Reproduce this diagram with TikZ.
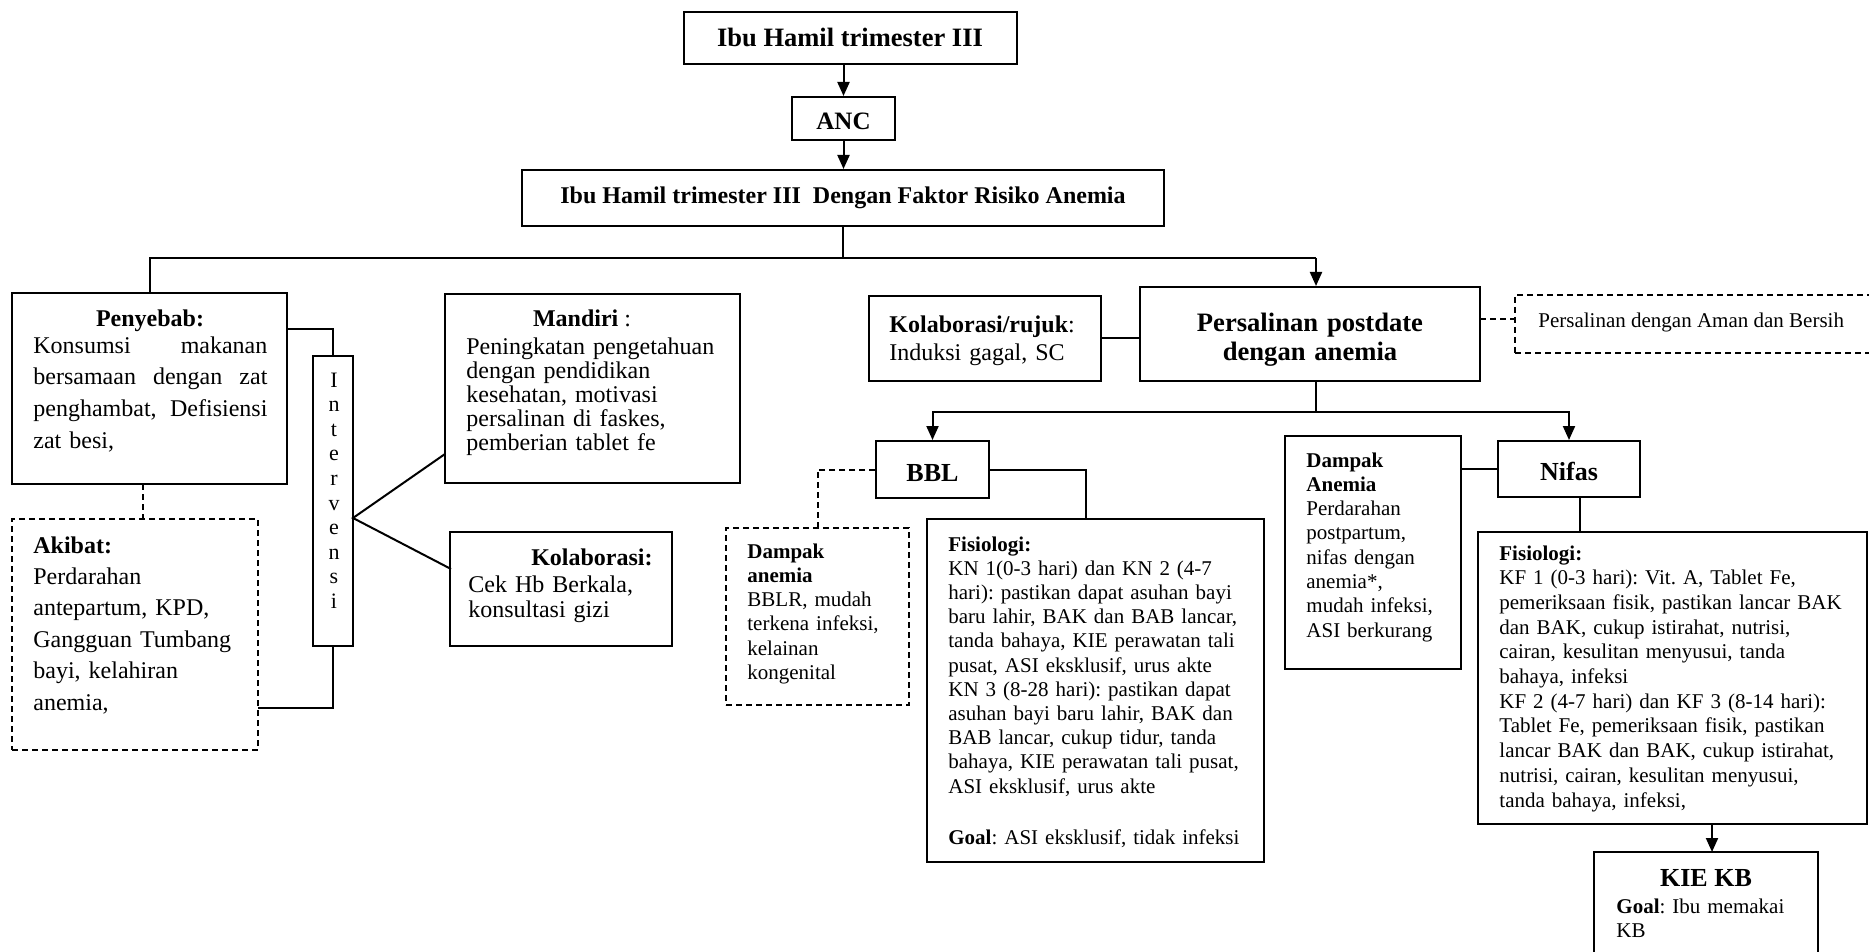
\documentclass[tikz,border=0pt]{standalone}
\usepackage{fontspec}
\setmainfont{Liberation Serif}
\usetikzlibrary{fit,arrows.meta}
\newcommand{\fsz}[2]{\fontsize{#1}{#2}\selectfont}
\frenchspacing
\begin{document}
\frenchspacing
\begin{tikzpicture}[x=0.5pt,y=-0.5pt,
  bx/.style={draw, line width=1pt, inner sep=0pt},
  dbx/.style={bx, dash pattern=on 3pt off 2pt},
  ln/.style={line width=1pt},
  dln/.style={line width=1pt, dash pattern=on 3pt off 2pt},
  arr/.style={line width=1pt, -{Triangle[length=7pt,width=6pt]}},
  txt/.style={inner sep=0pt, anchor=base west, align=left},
  ctxt/.style={inner sep=0pt, anchor=base, align=center}]
\useasboundingbox (0,0) rectangle (1869,952);
\fill[white] (0,0) rectangle (1869,952);

% ---------- top chain ----------
\node[bx, fit={(684,12)(1017,64)}] (b1) {};
\node[ctxt, font=\bfseries\fsz{13.25}{15}] (b1t) at (850,47) {Ibu Hamil trimester III};
\node[bx, fit={(792,97)(895,140)}] (anc) {};
\node[ctxt, font=\bfseries\fsz{12.5}{14}] (anct) at (843.5,130) {ANC};
\node[bx, fit={(522,170)(1164,226)}] (b3) {};
\node[ctxt, font=\bfseries\fsz{12}{14}] (b3t) at (843,204) {Ibu Hamil trimester III\ \ Dengan Faktor Risiko Anemia};

\draw[arr] (anc.north |- b1.south) -- (anc.north);
\draw[arr] (anc.south) -- (anc.south |- b3.north);

% ---------- left part ----------
\node[bx, fit={(12,293)(287,484)}] (peny) {};
\node[ctxt, font=\bfseries\fsz{12}{14}] (penyh) at (150,327) {Penyebab:};
\node[txt, text width=117pt, font=\fsz{12}{15.85}] (penyt) at (33,353)
  {\makebox[117pt][l]{Konsumsi\hfill makanan}\\\makebox[117pt][l]{bersamaan\hfill dengan\hfill zat}\\\makebox[117pt][l]{penghambat,\hfill Defisiensi}\\zat besi,};

\node[dbx, fit={(12,519)(258,750)}] (aki) {};
\node[txt, text width=115pt, font=\fsz{12}{15.7}] (akit) at (33,553)
  {\textbf{Akibat:}\\Perdarahan\\antepartum, KPD,\\Gangguan Tumbang\\bayi, kelahiran\\anemia,};

\node[bx, fit={(313,356)(353,646)}] (intv) {};
\node[ctxt, text width=18pt, font=\fsz{11}{12.3}] (intvt) at (334,387)
  {I\\n\\t\\e\\r\\v\\e\\n\\s\\i};

\node[bx, fit={(445,294)(740,483)}] (mand) {};
\node[ctxt, font=\fsz{12}{14}] (mandh) at (582,327) {\textbf{Mandiri} :};
\node[txt, text width=140pt, font=\fsz{12}{12.1}] (mandt) at (466,354)
  {Peningkatan pengetahuan\\dengan pendidikan\\kesehatan, motivasi\\persalinan di faskes,\\pemberian tablet fe};

\node[bx, fit={(450,532)(672,646)}] (kol) {};
\node[inner sep=0pt, anchor=base east, font=\bfseries\fsz{12}{14}] (kolh) at (653,565) {Kolaborasi:};
\node[txt, text width=100pt, font=\fsz{12}{12.5}] (kolt) at (468,592)
  {Cek Hb Berkala,\\konsultasi gizi};

\coordinate (p1) at (287,329);
\coordinate (a1) at (258,708);
\coordinate (iv) at (353,518);
\coordinate (m1) at (445,454);
\coordinate (k1) at (451,569);
\coordinate (d1) at (143,484);
\draw[ln] (p1) -| (intv.north);
\draw[ln] (intv.south) |- (a1);
\draw[ln] (m1) -- (iv) -- (k1);
\draw[dln] (d1) -- (d1 |- aki.north);

% ---------- branch from box 3 ----------
\coordinate (j0) at (843,258);
\draw[ln] (b3.south) -- (j0);
\draw[ln] (j0) -| (peny.north);

\node[bx, fit={(869,296)(1101,381)}] (ruj) {};
\node[txt, text width=110pt, font=\fsz{12}{13}] (rujt) at (889,333)
  {\textbf{Kolaborasi/rujuk}:\\[0.5pt]Induksi gagal, SC};

\node[bx, fit={(1140,287)(1480,381)}] (pers) {};
\node[ctxt, text width=160pt, font=\bfseries\fsz{13.3}{14}] (perst) at (1310,332)
  {Persalinan postdate\\dengan anemia};

\coordinate (jp) at (1316,258);
\draw[ln] (j0) -- (jp);
\draw[arr] (jp) -- (jp |- pers.north);
\draw[ln] (ruj.east) -- (ruj.east -| pers.west);

\node[dbx, fit={(1515,295)(1900,353)}] (aman) {};
\node[txt, font=\fsz{10.5}{12}] (amant) at (1538,328) {Persalinan dengan Aman dan Bersih};
\coordinate (pe) at (1480,319);
\draw[dln] (pe) -- (pe -| aman.west);

% ---------- second level ----------
\coordinate (j1) at (1316,381);
\coordinate (j2) at (1316,412);
\draw[ln] (j1) -- (j2);

\node[bx, fit={(876,441)(989,498)}] (bbl) {};
\node[ctxt, font=\bfseries\fsz{13}{14}] (bblt) at (932.5,481) {BBL};

\node[bx, fit={(1498,441)(1640,497)}] (nif) {};
\node[ctxt, font=\bfseries\fsz{13}{14}] (nift) at (1569,480) {Nifas};

\draw[arr] (j2) -| (bbl.north);
\draw[arr] (j2) -| (nif.north);

\node[dbx, fit={(726,528)(909,705)}] (dba) {};
\node[txt, text width=85pt, font=\fsz{10.5}{12.15}] (dbat) at (747,558)
  {\textbf{Dampak}\\\textbf{anemia}\\BBLR, mudah\\terkena infeksi,\\kelainan\\kongenital};
\draw[dln] (bbl.west) -| (dba.north);

\node[bx, fit={(927,519)(1264,862)}] (fis1) {};
\node[txt, text width=160pt, font=\fsz{10.5}{12.1}] (fis1t) at (948,551)
  {\textbf{Fisiologi:}\\
   KN 1(0-3 hari) dan KN 2 (4-7\\
   hari): pastikan dapat asuhan bayi\\
   baru lahir, BAK dan BAB lancar,\\
   tanda bahaya, KIE perawatan tali\\
   pusat, ASI eksklusif, urus akte\\
   KN 3 (8-28 hari): pastikan dapat\\
   asuhan bayi baru lahir, BAK dan\\
   BAB lancar, cukup tidur, tanda\\
   bahaya, KIE perawatan tali pusat,\\
   ASI eksklusif, urus akte\\[13.5pt]
   \textbf{Goal}: ASI eksklusif, tidak infeksi};
\coordinate (c1) at (1086,519);
\draw[ln] (bbl.east) -| (c1);

\node[bx, fit={(1285,436)(1461,669)}] (dna) {};
\node[txt, text width=85pt, font=\fsz{10.5}{12.15}] (dnat) at (1306,467)
  {\textbf{Dampak}\\\textbf{Anemia}\\Perdarahan\\postpartum,\\nifas dengan\\anemia*,\\mudah infeksi,\\ASI berkurang};
\draw[ln] (nif.west) -- (nif.west -| dna.east);

\node[bx, fit={(1478,532)(1867,824)}] (fis2) {};
\node[txt, text width=185pt, font=\fsz{10.5}{12.35}] (fis2t) at (1499,560)
  {\textbf{Fisiologi:}\\
   KF 1 (0-3 hari): Vit. A, Tablet Fe,\\
   pemeriksaan fisik, pastikan lancar BAK\\
   dan BAK, cukup istirahat, nutrisi,\\
   cairan, kesulitan menyusui, tanda\\
   bahaya, infeksi\\
   KF 2 (4-7 hari) dan KF 3 (8-14 hari):\\
   Tablet Fe, pemeriksaan fisik, pastikan\\
   lancar BAK dan BAK, cukup istirahat,\\
   nutrisi, cairan, kesulitan menyusui,\\
   tanda bahaya, infeksi,};
\coordinate (c2) at (1580,532);
\draw[ln] (c2 |- nif.south) -- (c2);

\node[bx, fit={(1594,852)(1818,1000)}] (kie) {};
\node[ctxt, font=\bfseries\fsz{13}{14}] (kieh) at (1706,886) {KIE KB};
\node[txt, text width=100pt, font=\fsz{10.5}{12}] (kiet) at (1616,913)
  {\textbf{Goal}: Ibu memakai\\KB};
\coordinate (c3) at (1712,852);
\draw[arr] (c3 |- fis2.south) -- (c3);
\end{tikzpicture}
\end{document}
